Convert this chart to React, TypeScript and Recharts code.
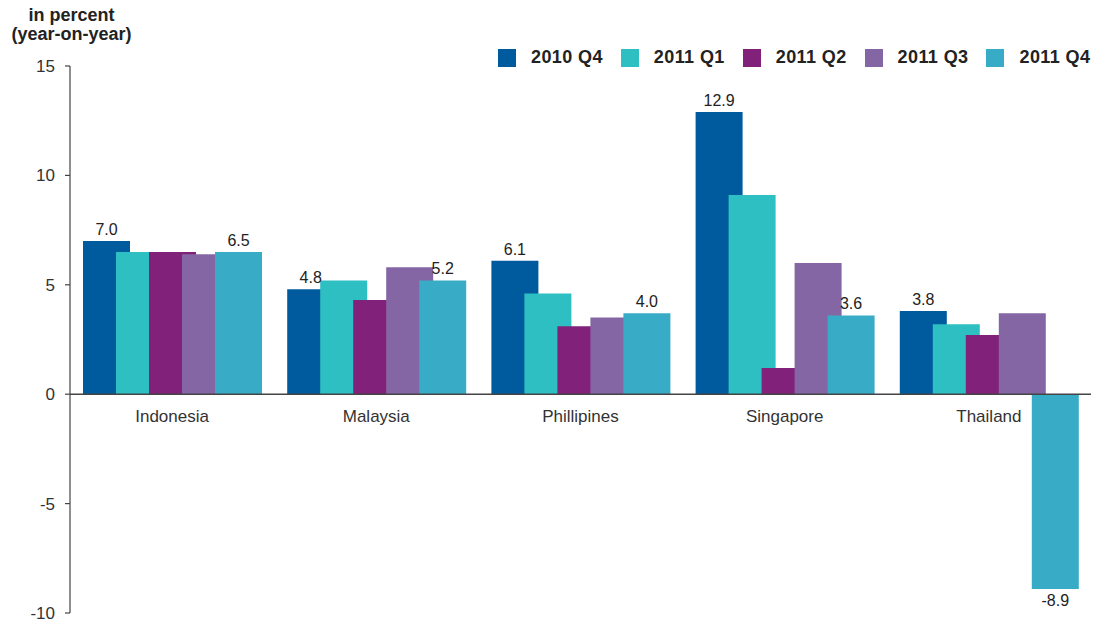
import React from "react";
import {
  BarChart,
  Bar,
  XAxis,
  YAxis,
  ReferenceLine,
  ReferenceDot,
  LabelList,
} from "recharts";

const categories = ["Indonesia", "Malaysia", "Phillipines", "Singapore", "Thailand"];
const seriesNames = ["2010 Q4", "2011 Q1", "2011 Q2", "2011 Q3", "2011 Q4"];
const seriesColors = ["#005a9e", "#2dbfc2", "#82217a", "#8566a4", "#38abc6"];

const q4_2010 = [7.0, 4.8, 6.1, 12.9, 3.8];
const q1_2011 = [6.5, 5.2, 4.6, 9.1, 3.2];
const q2_2011 = [6.5, 4.3, 3.1, 1.2, 2.7];
const q3_2011 = [6.4, 5.8, 3.5, 6.0, 3.7];
const q4_2011 = [6.5, 5.2, 3.7, 3.6, -8.9];

const labels_q4_2010 = ["7.0", "4.8", "6.1", "12.9", "3.8"];
const labels_q4_2011 = ["6.5", "5.2", "4.0", "3.6", "-8.9"];

const yTicks = [-10, -5, 0, 5, 10, 15];

const seriesValues = [q4_2010, q1_2011, q2_2011, q3_2011, q4_2011];
const seriesLabels: (string[] | null)[] = [labels_q4_2010, null, null, null, labels_q4_2011];

const data = categories.map((name, i) => {
  const row: Record<string, any> = { name };
  seriesValues.forEach((vals, s) => {
    row["s" + s] = vals[i];
    const lab = seriesLabels[s];
    row["l" + s] = lab ? lab[i] : null;
  });
  return row;
});

const FONT = "'Liberation Sans', Arial, Helvetica, sans-serif";

export default function App() {
  return (
    <div
      style={{
        position: "absolute",
        left: 0,
        top: 0,
        width: 1098,
        height: 620,
        background: "#fff",
        fontFamily: FONT,
      }}
    >
      <div
        style={{
          position: "absolute",
          left: 0,
          top: 6,
          width: 143,
          textAlign: "center",
          fontSize: 18,
          fontWeight: "bold",
          lineHeight: "19px",
          color: "#222",
        }}
      >
        in percent
        <br />
        (year-on-year)
      </div>
      <div
        style={{
          position: "absolute",
          left: 498,
          top: 47,
          display: "flex",
          alignItems: "center",
          gap: 18,
        }}
      >
        {seriesNames.map((n, i) => (
          <div key={n} style={{ display: "flex", alignItems: "center" }}>
            <div style={{ width: 18, height: 18, background: seriesColors[i], marginRight: 15 }} />
            <span
              style={{
                fontSize: 18,
                fontWeight: "bold",
                color: "#222",
                whiteSpace: "nowrap",
                letterSpacing: 0.4,
              }}
            >
              {n}
            </span>
          </div>
        ))}
      </div>
      <BarChart
        width={1098}
        height={620}
        data={data}
        margin={{ top: 66, right: 7, bottom: 7, left: 0 }}
        barSize={47}
        barGap={-14}
        style={{ position: "absolute", left: 0, top: 0 }}
      >
        <XAxis dataKey="name" hide />
        <YAxis
          width={70}
          domain={[-10, 15]}
          ticks={yTicks}
          interval={0}
          allowDataOverflow
          axisLine={{ stroke: "#444", strokeWidth: 1.2 }}
          tickLine={{ stroke: "#444", strokeWidth: 1.2 }}
          tickSize={5}
          tickMargin={10}
          tick={{ fontSize: 17, fill: "#333", fontFamily: FONT }}
        />
        {seriesNames.map((n, s) => (
          <Bar key={n} dataKey={"s" + s} name={n} fill={seriesColors[s]} isAnimationActive={false}>
            {seriesLabels[s] ? (
              <LabelList
                dataKey={"l" + s}
                position="top"
                offset={6}
                style={{ fontSize: 16, fill: "#222", fontFamily: FONT }}
              />
            ) : null}
          </Bar>
        ))}
        <ReferenceLine y={0} stroke="#444" strokeWidth={1.5} />
        {categories.map((c) => (
          <ReferenceDot
            key={c}
            x={c}
            y={0}
            r={0}
            fill="none"
            stroke="none"
            label={{ value: c, position: "bottom", offset: 16, fontSize: 17, fill: "#333", fontFamily: FONT }}
          />
        ))}
      </BarChart>
    </div>
  );
}
